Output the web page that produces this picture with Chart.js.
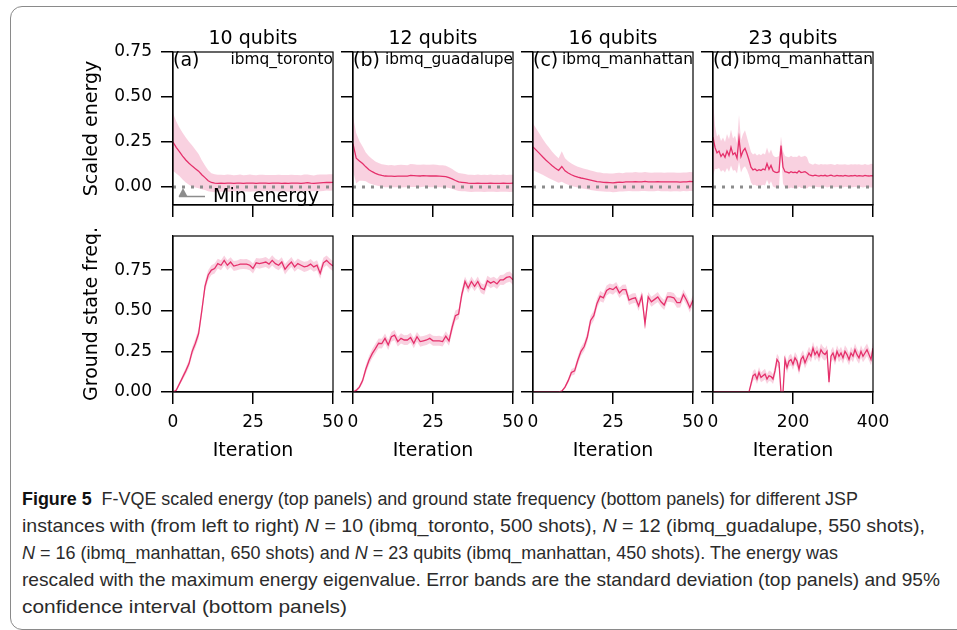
<!DOCTYPE html>
<html lang="en">
<head>
    <meta charset="UTF-8">
    <title>F-VQE scaled energy and ground state frequency</title>
    <script src="https://cdn.jsdelivr.net/npm/chart.js"></script>
    <style>
        body { margin: 0; background: #fff; width: 957px; height: 630px; overflow: hidden; position: relative; }
        .frame { position: absolute; left: 10px; top: 6px; width: 975px; height: 622px;
                 border: 1px solid #8a8a8a; border-radius: 12px; }
        canvas.panel { position: absolute; }
        .caption { position: absolute; left: 22px; top: 485px; color: #2b2b2b; white-space: nowrap;
                   font-family: "Liberation Sans", sans-serif; font-size: 19px; line-height: 27px; }
        .caption div { width: max-content; transform-origin: 0 0; }
        .caption b { color: #111; }
    </style>
</head>
<body>
<div class="frame"></div>
<div id="panels"></div>
<div class="caption">
    <div><b>Figure 5</b>&nbsp; F-VQE scaled energy (top panels) and ground state frequency (bottom panels) for different JSP</div>
    <div>instances with (from left to right) <i>N</i> = 10 (ibmq_toronto, 500 shots), <i>N</i> = 12 (ibmq_guadalupe, 550 shots),</div>
    <div><i>N</i> = 16 (ibmq_manhattan, 650 shots) and <i>N</i> = 23 qubits (ibmq_manhattan, 450 shots). The energy was</div>
    <div>rescaled with the maximum energy eigenvalue. Error bands are the standard deviation (top panels) and 95%</div>
    <div>confidence interval (bottom panels)</div>
</div>
<script>
    // panel labels
    const qubits = ['10 qubits', '12 qubits', '16 qubits', '23 qubits'];
    const panelTags = ['(a)', '(b)', '(c)', '(d)'];
    const devices = ['ibmq_toronto', 'ibmq_guadalupe', 'ibmq_manhattan', 'ibmq_manhattan'];
    const iterMax = [50, 50, 50, 400];
    const iterStep = [1, 1, 1, 5];
    const xTicks = [[0, 25, 50], [0, 25, 50], [0, 25, 50], [0, 200, 400]];
    const energyTicks = [0, 0.25, 0.5, 0.75];
    const freqTicks = [0, 0.25, 0.5, 0.75];
    const minEnergy = 0;

    // scaled energy, mean and standard deviation
    const energy10 = [
        0.25, 0.22, 0.196, 0.172, 0.15, 0.132, 0.116, 0.102, 0.088, 0.068,
        0.052, 0.035, 0.025, 0.021, 0.02, 0.021, 0.02, 0.022, 0.021, 0.02,
        0.021, 0.022, 0.02, 0.021, 0.022, 0.021, 0.02, 0.021, 0.022, 0.021,
        0.02, 0.021, 0.022, 0.021, 0.02, 0.021, 0.02, 0.021, 0.022, 0.021,
        0.02, 0.022, 0.024, 0.021, 0.02, 0.022, 0.023, 0.024, 0.025, 0.025,
        0.026];
    const energyStd10 = [
        0.16, 0.145, 0.135, 0.13, 0.125, 0.12, 0.115, 0.105, 0.095, 0.08,
        0.068, 0.058, 0.052, 0.05, 0.048, 0.047, 0.046, 0.048, 0.047, 0.045,
        0.046, 0.047, 0.045, 0.046, 0.048, 0.046, 0.045, 0.047, 0.046, 0.045,
        0.047, 0.046, 0.045, 0.047, 0.046, 0.045, 0.046, 0.047, 0.045, 0.046,
        0.045, 0.047, 0.046, 0.045, 0.044, 0.046, 0.047, 0.046, 0.045, 0.046,
        0.045];
    const energy12 = [
        0.24, 0.16, 0.145, 0.13, 0.112, 0.096, 0.085, 0.076, 0.069, 0.064,
        0.061, 0.06, 0.06, 0.059, 0.06, 0.06, 0.06, 0.06, 0.064, 0.063,
        0.062, 0.061, 0.063, 0.062, 0.061, 0.062, 0.061, 0.06, 0.059, 0.058,
        0.052, 0.045, 0.036, 0.028, 0.026, 0.024, 0.021, 0.02, 0.02, 0.021,
        0.02, 0.02, 0.02, 0.021, 0.02, 0.02, 0.02, 0.021, 0.02, 0.02,
        0.021];
    const energyStd12 = [
        0.15, 0.14, 0.11, 0.095, 0.08, 0.075, 0.07, 0.066, 0.064, 0.062,
        0.062, 0.061, 0.062, 0.061, 0.062, 0.063, 0.062, 0.061, 0.064, 0.063,
        0.062, 0.063, 0.062, 0.061, 0.062, 0.063, 0.062, 0.061, 0.062, 0.06,
        0.058, 0.055, 0.052, 0.05, 0.049, 0.048, 0.047, 0.048, 0.047, 0.048,
        0.047, 0.048, 0.047, 0.048, 0.047, 0.048, 0.047, 0.048, 0.047, 0.048,
        0.047];
    const energy16 = [
        0.223, 0.205, 0.187, 0.168, 0.15, 0.134, 0.118, 0.104, 0.092, 0.114,
        0.09, 0.078, 0.068, 0.061, 0.055, 0.05, 0.046, 0.042, 0.038, 0.034,
        0.03, 0.028, 0.026, 0.025, 0.024, 0.023, 0.025, 0.027, 0.026, 0.028,
        0.029, 0.028, 0.03, 0.028, 0.029, 0.031, 0.029, 0.028, 0.029, 0.03,
        0.029, 0.028, 0.029, 0.028, 0.029, 0.028, 0.027, 0.029, 0.028, 0.031,
        0.03];
    const energyStd16 = [
        0.13, 0.12, 0.11, 0.1, 0.092, 0.085, 0.078, 0.072, 0.068, 0.085,
        0.07, 0.065, 0.062, 0.06, 0.058, 0.057, 0.056, 0.055, 0.054, 0.053,
        0.052, 0.052, 0.051, 0.052, 0.051, 0.052, 0.053, 0.052, 0.051, 0.052,
        0.051, 0.052, 0.054, 0.052, 0.051, 0.053, 0.052, 0.051, 0.052, 0.051,
        0.052, 0.051, 0.052, 0.053, 0.052, 0.051, 0.052, 0.051, 0.052, 0.053,
        0.052];
    // 23 qubits: every 5th iteration
    const energy23 = [
        0.277, 0.22, 0.19, 0.2, 0.17, 0.185, 0.165, 0.2, 0.175, 0.22,
        0.18, 0.19, 0.16, 0.27, 0.17, 0.2, 0.215, 0.185, 0.15, 0.11,
        0.095, 0.1, 0.09, 0.096, 0.092, 0.1, 0.095, 0.13, 0.098, 0.12,
        0.09, 0.082, 0.08, 0.085, 0.23, 0.11, 0.085, 0.082, 0.078, 0.085,
        0.08, 0.082, 0.078, 0.09, 0.08, 0.082, 0.085, 0.078, 0.068, 0.065,
        0.062, 0.066, 0.063, 0.061, 0.064, 0.062, 0.065, 0.061, 0.063, 0.066,
        0.062, 0.06, 0.064, 0.062, 0.063, 0.061, 0.064, 0.062, 0.06, 0.063,
        0.062, 0.064, 0.061, 0.063, 0.062, 0.06, 0.064, 0.062, 0.061, 0.063,
        0.062];
    const energyStd23 = [
        0.21, 0.12, 0.09, 0.095, 0.085, 0.09, 0.085, 0.095, 0.09, 0.1,
        0.09, 0.095, 0.085, 0.13, 0.09, 0.095, 0.1, 0.09, 0.085, 0.085,
        0.085, 0.088, 0.085, 0.087, 0.085, 0.088, 0.086, 0.09, 0.087, 0.088,
        0.087, 0.085, 0.086, 0.087, 0.05, 0.09, 0.087, 0.086, 0.087, 0.088,
        0.087, 0.086, 0.088, 0.087, 0.086, 0.087, 0.088, 0.087, 0.065, 0.063,
        0.062, 0.064, 0.063, 0.062, 0.064, 0.063, 0.062, 0.064, 0.063, 0.062,
        0.063, 0.062, 0.064, 0.063, 0.062, 0.064, 0.063, 0.062, 0.063, 0.064,
        0.063, 0.062, 0.064, 0.063, 0.062, 0.063, 0.064, 0.062, 0.063, 0.066,
        0.065];

    // ground state frequency, mean and 95% CI half width
    const freq10 = [
        0, 0.01, 0.05, 0.09, 0.13, 0.175, 0.25, 0.3, 0.36, 0.5,
        0.65, 0.72, 0.75, 0.76, 0.79, 0.78, 0.81, 0.78, 0.8, 0.775,
        0.78, 0.787, 0.787, 0.787, 0.78, 0.76, 0.795, 0.79, 0.795, 0.8,
        0.787, 0.81, 0.79, 0.78, 0.8, 0.755, 0.78, 0.8, 0.77, 0.79,
        0.78, 0.77, 0.775, 0.787, 0.77, 0.78, 0.73, 0.795, 0.81, 0.79,
        0.775];
    const freqCi10 = [
        0.004, 0.008, 0.012, 0.016, 0.02, 0.024, 0.026, 0.028, 0.03, 0.03,
        0.03, 0.03, 0.03, 0.031, 0.03, 0.031, 0.03, 0.031, 0.03, 0.031,
        0.03, 0.031, 0.03, 0.031, 0.03, 0.031, 0.03, 0.031, 0.03, 0.031,
        0.03, 0.031, 0.03, 0.031, 0.03, 0.032, 0.03, 0.031, 0.03, 0.031,
        0.03, 0.031, 0.03, 0.031, 0.03, 0.031, 0.033, 0.031, 0.03, 0.031,
        0.03];
    const freq12 = [
        0, 0.01, 0.03, 0.07, 0.14, 0.195, 0.236, 0.267, 0.3, 0.298,
        0.33, 0.29, 0.34, 0.35, 0.31, 0.33, 0.32, 0.32, 0.335, 0.3,
        0.34, 0.31, 0.315, 0.32, 0.33, 0.315, 0.315, 0.315, 0.31, 0.343,
        0.314, 0.4, 0.47, 0.48, 0.6, 0.68, 0.64, 0.68, 0.65, 0.68,
        0.64, 0.63, 0.685, 0.67, 0.68, 0.665, 0.69, 0.69, 0.705, 0.71,
        0.69];
    const freqCi12 = [
        0.004, 0.008, 0.012, 0.018, 0.024, 0.027, 0.029, 0.03, 0.03, 0.03,
        0.03, 0.031, 0.03, 0.031, 0.03, 0.031, 0.03, 0.031, 0.03, 0.031,
        0.03, 0.031, 0.03, 0.031, 0.03, 0.031, 0.03, 0.031, 0.03, 0.031,
        0.03, 0.032, 0.032, 0.031, 0.03, 0.031, 0.03, 0.031, 0.03, 0.031,
        0.03, 0.031, 0.03, 0.031, 0.03, 0.031, 0.03, 0.031, 0.032, 0.031,
        0.032];
    const freq16 = [
        0, 0, 0, 0, 0, 0, 0, 0, 0, 0.005,
        0.03, 0.07, 0.12, 0.13, 0.195, 0.25, 0.28, 0.34, 0.44, 0.47,
        0.545, 0.59, 0.58, 0.625, 0.637, 0.63, 0.647, 0.61, 0.63, 0.63,
        0.565, 0.575, 0.58, 0.53, 0.59, 0.42, 0.585, 0.555, 0.57, 0.585,
        0.555, 0.535, 0.585, 0.585, 0.58, 0.55, 0.55, 0.6, 0.565, 0.52,
        0.565];
    const freqCi16 = [
        0, 0, 0, 0, 0, 0, 0, 0, 0, 0.003,
        0.01, 0.015, 0.02, 0.022, 0.025, 0.027, 0.028, 0.03, 0.03, 0.03,
        0.03, 0.031, 0.03, 0.031, 0.03, 0.031, 0.03, 0.031, 0.03, 0.031,
        0.03, 0.031, 0.03, 0.031, 0.03, 0.032, 0.03, 0.031, 0.03, 0.031,
        0.03, 0.031, 0.03, 0.031, 0.03, 0.031, 0.03, 0.031, 0.03, 0.031,
        0.03];
    const freq23 = [
        0, 0, 0, 0, 0, 0, 0, 0, 0, 0,
        0, 0, 0, 0, 0, 0, 0, 0, 0, 0.05,
        0.1, 0.11, 0.08, 0.12, 0.09, 0.1, 0.11, 0.08, 0.1, 0.095,
        0.08, 0.13, 0.2, 0.18, 0, 0, 0.2, 0.15, 0.19, 0.2,
        0.17, 0.21, 0.19, 0.14, 0.2, 0.22, 0.18, 0.21, 0.24, 0.22,
        0.27, 0.23, 0.25, 0.22, 0.26, 0.24, 0.23, 0.25, 0.06, 0.22,
        0.24, 0.2, 0.25, 0.22, 0.24, 0.21, 0.25, 0.23, 0.2, 0.24,
        0.22, 0.26, 0.23, 0.21, 0.25, 0.22, 0.24, 0.26, 0.23, 0.2,
        0.27];
    const freqCi23 = [
        0, 0, 0, 0, 0, 0, 0, 0, 0, 0,
        0, 0, 0, 0, 0, 0, 0, 0, 0, 0.02,
        0.03, 0.032, 0.03, 0.034, 0.03, 0.032, 0.033, 0.03, 0.032, 0.031,
        0.03, 0.034, 0.036, 0.035, 0, 0, 0.036, 0.034, 0.035, 0.036,
        0.035, 0.036, 0.035, 0.034, 0.036, 0.037, 0.035, 0.036, 0.038, 0.037,
        0.039, 0.037, 0.038, 0.037, 0.039, 0.038, 0.037, 0.038, 0.025, 0.037,
        0.038, 0.036, 0.038, 0.037, 0.038, 0.036, 0.038, 0.037, 0.036, 0.038,
        0.037, 0.039, 0.037, 0.036, 0.038, 0.037, 0.038, 0.039, 0.037, 0.036,
        0.04];

    const energyMean = [energy10, energy12, energy16, energy23];
    const energyErr = [energyStd10, energyStd12, energyStd16, energyStd23];
    const freqMean = [freq10, freq12, freq16, freq23];
    const freqErr = [freqCi10, freqCi12, freqCi16, freqCi23];

    const LINE = '#e5306b';
    const BAND = 'rgba(232, 62, 125, 0.24)';
    const plotLeft = [173, 353, 533, 713];
    Chart.defaults.font.family = '"DejaVu Sans"';
    Chart.defaults.color = '#000';

    // full box around each axes, plus panel annotations
    const boxPlugin = {
        id: 'box',
        afterDraw(chart, args, opts) {
            const { ctx, chartArea: a } = chart;
            ctx.save();
            ctx.strokeStyle = '#000';
            ctx.lineWidth = 1.2;
            ctx.strokeRect(a.left, a.top, a.right - a.left, a.bottom - a.top);
            ctx.fillStyle = '#000';
            ctx.textBaseline = 'alphabetic';
            if (opts.tag) {
                ctx.font = '19px "DejaVu Sans"';
                ctx.textAlign = 'left';
                ctx.fillText(opts.tag, a.left, a.top + 13.5);
                ctx.font = '15.4px "DejaVu Sans"';
                ctx.textAlign = 'right';
                ctx.fillText(opts.device, a.right, a.top + 12);
            }
            if (opts.legend) {
                ctx.strokeStyle = '#8c8c8c';
                ctx.fillStyle = '#8c8c8c';
                ctx.lineWidth = 1.5;
                ctx.beginPath();
                ctx.moveTo(a.left + 6, a.bottom - 8.5);
                ctx.lineTo(a.left + 32, a.bottom - 8.5);
                ctx.stroke();
                ctx.beginPath();
                ctx.moveTo(a.left + 10, a.bottom - 17);
                ctx.lineTo(a.left + 14.5, a.bottom - 8.5);
                ctx.lineTo(a.left + 5.5, a.bottom - 8.5);
                ctx.closePath();
                ctx.fill();
                ctx.fillStyle = '#000';
                ctx.font = '19px "DejaVu Sans"';
                ctx.textAlign = 'left';
                ctx.fillText(opts.legend, a.left + 40, a.bottom - 3);
            }
            ctx.restore();
        }
    };

    function points(values, step) {
        return values.map((v, i) => ({ x: i * step, y: v }));
    }

    function makePanel(col, row) {
        const top = row === 0;
        const mean = top ? energyMean[col] : freqMean[col];
        const err = top ? energyErr[col] : freqErr[col];
        const step = iterStep[col];

        const canvas = document.createElement('canvas');
        canvas.className = 'panel';
        canvas.width = 280;
        canvas.height = top ? 200 : 240;
        canvas.style.left = (plotLeft[col] - 100) + 'px';
        canvas.style.top = (top ? 17 : 222) + 'px';
        document.getElementById('panels').appendChild(canvas);

        const datasets = [{
            data: points(mean, step),
            borderColor: LINE, borderWidth: 1.3, pointRadius: 0, fill: false
        }];
        if (top) {
            datasets.push({
                data: [{ x: 0, y: minEnergy }, { x: iterMax[col], y: minEnergy }],
                borderColor: '#8c8c8c', borderWidth: 3, borderDash: [3, 6], pointRadius: 0, fill: false
            });
        }
        datasets.push({
            data: points(mean.map((v, i) => v + err[i]), step),
            borderColor: 'transparent', borderWidth: 0, pointRadius: 0, fill: false
        });
        datasets.push({
            data: points(mean.map((v, i) => v - err[i]), step),
            borderColor: 'transparent', borderWidth: 0, pointRadius: 0, fill: '-1', backgroundColor: BAND
        });

        const grid = { drawOnChartArea: false, drawTicks: true, tickLength: 12, color: '#000', lineWidth: 1.5 };
        const yTicks = top ? energyTicks : freqTicks;

        new Chart(canvas, {
            type: 'line',
            data: { datasets },
            plugins: [boxPlugin],
            options: {
                responsive: false,
                animation: false,
                layout: { padding: { top: top ? 0 : 14, right: 20, bottom: 0, left: 0 } },
                scales: {
                    x: {
                        type: 'linear', min: 0, max: iterMax[col],
                        afterBuildTicks: s => { s.ticks = xTicks[col].map(v => ({ value: v })); },
                        afterFit: s => { s.height = top ? 12 : 70; s.paddingLeft = 0; s.paddingRight = 0; },
                        ticks: { display: !top, padding: 8, maxRotation: 0, autoSkip: false,
                                 font: { size: 17 }, callback: v => String(v) },
                        grid: grid,
                        border: { color: '#000', width: 1.2 },
                        title: { display: !top, text: 'Iteration', font: { size: 19 }, padding: { top: 0, bottom: 0 } }
                    },
                    y: {
                        type: 'linear', min: top ? -0.1 : 0, max: top ? 0.75 : 0.96,
                        afterBuildTicks: s => { s.ticks = yTicks.map(v => ({ value: v })); },
                        afterFit: s => { s.width = 100; s.paddingTop = 0; s.paddingBottom = 0; },
                        ticks: { display: col === 0, padding: 9, font: { size: 17 }, callback: v => v.toFixed(2) },
                        grid: grid,
                        border: { color: '#000', width: 1.2 },
                        title: { display: col === 0, text: top ? 'Scaled energy' : 'Ground state freq.',
                                 font: { size: 19 }, padding: { top: 7.6, bottom: 0 } }
                    }
                },
                plugins: {
                    legend: { display: false },
                    tooltip: { enabled: false },
                    title: { display: top, text: qubits[col], fullSize: false, color: '#000',
                             font: { size: 19, weight: 'normal', lineHeight: 1.2 }, padding: { top: 11, bottom: 1.2 } },
                    box: top ? { tag: panelTags[col], device: devices[col], legend: col === 0 ? 'Min energy' : '' } : {}
                }
            }
        });
    }

    for (let row = 0; row < 2; row++) {
        for (let col = 0; col < 4; col++) {
            makePanel(col, row);
        }
    }

    // stretch each caption line to the width it has in the printed figure
    const captionRight = [858, 925, 838, 940, 347];
    document.querySelectorAll('.caption div').forEach((line, i) => {
        const w = line.getBoundingClientRect().width;
        line.style.transform = 'scaleX(' + ((captionRight[i] - 22) / w).toFixed(4) + ')';
    });
</script>
</body>
</html>
